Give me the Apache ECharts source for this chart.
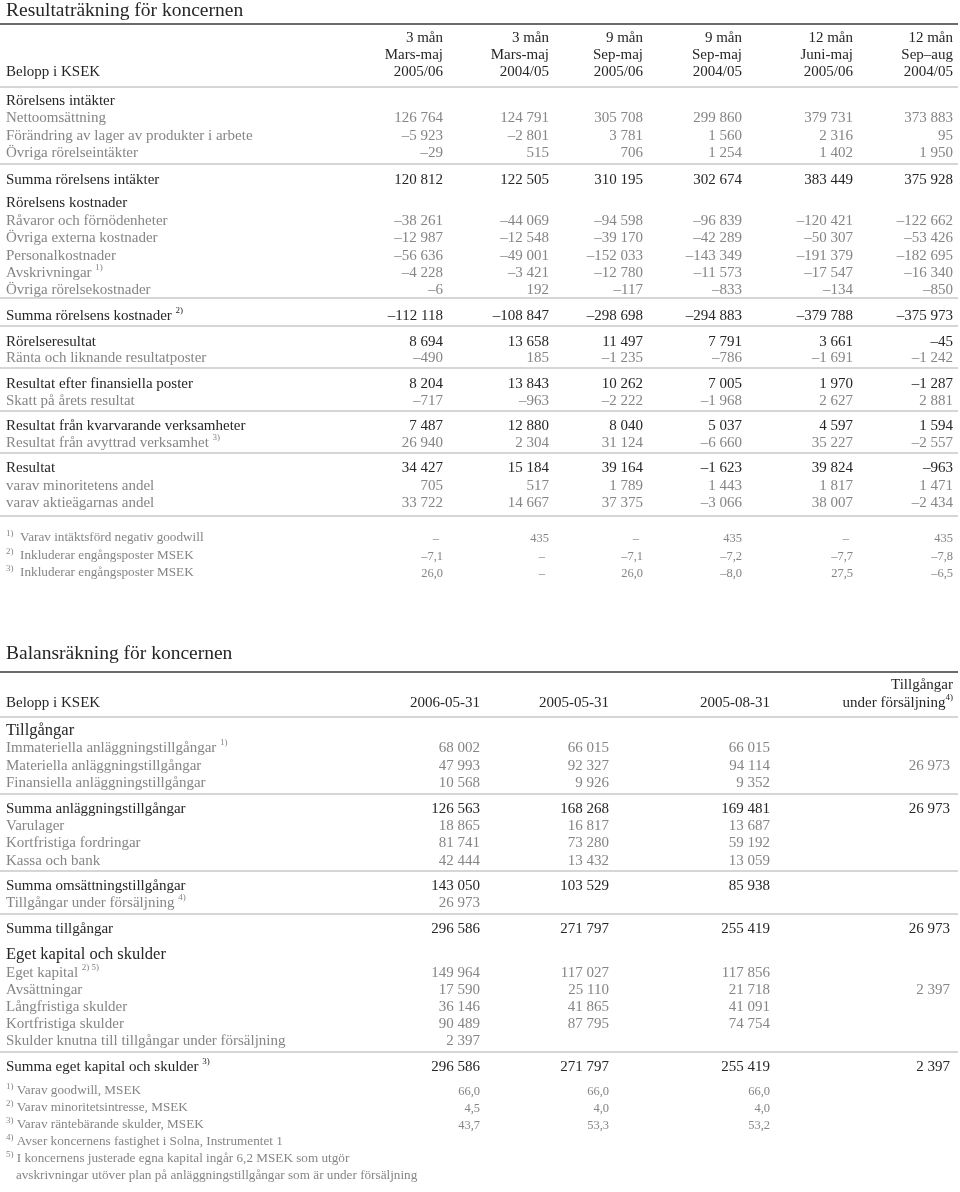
<!DOCTYPE html>
<html>
<head>
<meta charset="utf-8">
<script src="https://cdn.jsdelivr.net/npm/echarts@6/dist/echarts.min.js"></script>
<style>
  html, body { margin: 0; padding: 0; background: #fff; }
  #main { width: 960px; height: 1192px; }
</style>
</head>
<body>
<div id="main"></div>
<script>
// ---- Resultaträkning ----
const resPeriod = ["3 mån", "3 mån", "9 mån", "9 mån", "12 mån", "12 mån"];
const resMonths = ["Mars-maj", "Mars-maj", "Sep-maj", "Sep-maj", "Juni-maj", "Sep–aug"];
const resYears = ["2005/06", "2004/05", "2005/06", "2004/05", "2005/06", "2004/05"];

const resLabels = [
  "Rörelsens intäkter",
  "Nettoomsättning",
  "Förändring av lager av produkter i arbete",
  "Övriga rörelseintäkter",
  "Summa rörelsens intäkter",
  "Rörelsens kostnader",
  "Råvaror och förnödenheter",
  "Övriga externa kostnader",
  "Personalkostnader",
  "Avskrivningar",
  "Övriga rörelsekostnader",
  "Summa rörelsens kostnader",
  "Rörelseresultat",
  "Ränta och liknande resultatposter",
  "Resultat efter finansiella poster",
  "Skatt på årets resultat",
  "Resultat från kvarvarande verksamheter",
  "Resultat från avyttrad verksamhet",
  "Resultat",
  "varav minoritetens andel",
  "varav aktieägarnas andel"
];
const resNotes = { 9: "1)", 11: "2)", 17: "3)" };
const resStrong = [0, 4, 5, 11, 12, 14, 16, 18];
const resValues = [
  null,
  [126764, 124791, 305708, 299860, 379731, 373883],
  [-5923, -2801, 3781, 1560, 2316, 95],
  [-29, 515, 706, 1254, 1402, 1950],
  [120812, 122505, 310195, 302674, 383449, 375928],
  null,
  [-38261, -44069, -94598, -96839, -120421, -122662],
  [-12987, -12548, -39170, -42289, -50307, -53426],
  [-56636, -49001, -152033, -143349, -191379, -182695],
  [-4228, -3421, -12780, -11573, -17547, -16340],
  [-6, 192, -117, -833, -134, -850],
  [-112118, -108847, -298698, -294883, -379788, -375973],
  [8694, 13658, 11497, 7791, 3661, -45],
  [-490, 185, -1235, -786, -1691, -1242],
  [8204, 13843, 10262, 7005, 1970, -1287],
  [-717, -963, -2222, -1968, 2627, 2881],
  [7487, 12880, 8040, 5037, 4597, 1594],
  [26940, 2304, 31124, -6660, 35227, -2557],
  [34427, 15184, 39164, -1623, 39824, -963],
  [705, 517, 1789, 1443, 1817, 1471],
  [33722, 14667, 37375, -3066, 38007, -2434]
];
const resFootLabels = [
  "Varav intäktsförd negativ goodwill",
  "Inkluderar engångsposter MSEK",
  "Inkluderar engångsposter MSEK"
];
const resFootDecimals = [0, 1, 1];
const resFootValues = [
  [null, 435, null, 435, null, 435],
  [-7.1, null, -7.1, -7.2, -7.7, -7.8],
  [26.0, null, 26.0, -8.0, 27.5, -6.5]
];

// ---- Balansräkning ----
const balDates = ["2006-05-31", "2005-05-31", "2005-08-31"];
const balLabels = [
  "Tillgångar",
  "Immateriella anläggningstillgångar",
  "Materiella anläggningstillgångar",
  "Finansiella anläggningstillgångar",
  "Summa anläggningstillgångar",
  "Varulager",
  "Kortfristiga fordringar",
  "Kassa och bank",
  "Summa omsättningstillgångar",
  "Tillgångar under försäljning",
  "Summa tillgångar",
  "Eget kapital och skulder",
  "Eget kapital",
  "Avsättningar",
  "Långfristiga skulder",
  "Kortfristiga skulder",
  "Skulder knutna till tillgångar under försäljning",
  "Summa eget kapital och skulder"
];
const balNotes = { 1: "1)", 9: "4)", 12: "2) 5)", 17: "3)" };
const balStrong = [0, 4, 8, 10, 11, 17];
const balHeadings = [0, 11];
const balValues = [
  null,
  [68002, 66015, 66015, null],
  [47993, 92327, 94114, 26973],
  [10568, 9926, 9352, null],
  [126563, 168268, 169481, 26973],
  [18865, 16817, 13687, null],
  [81741, 73280, 59192, null],
  [42444, 13432, 13059, null],
  [143050, 103529, 85938, null],
  [26973, null, null, null],
  [296586, 271797, 255419, 26973],
  null,
  [149964, 117027, 117856, null],
  [17590, 25110, 21718, 2397],
  [36146, 41865, 41091, null],
  [90489, 87795, 74754, null],
  [2397, null, null, null],
  [296586, 271797, 255419, 2397]
];
const balFootLabels = [
  "Varav goodwill, MSEK",
  "Varav minoritetsintresse, MSEK",
  "Varav räntebärande skulder, MSEK",
  "Avser koncernens fastighet i Solna, Instrumentet 1",
  "I koncernens justerade egna kapital ingår 6,2 MSEK som utgör",
  "avskrivningar utöver plan på anläggningstillgångar som är under försäljning"
];
const balFootMarks = ["1)", "2)", "3)", "4)", "5)", ""];
const balFootValues = [
  [66.0, 66.0, 66.0],
  [4.5, 4.0, 4.0],
  [43.7, 53.3, 53.2]
];

// ---- layout ----
const FONT = "Liberation Serif";
const DARK = "#262626";
const GREY = "#858585";
const RULE = "#c9c9c9";
const BODY = 15;
const FOOT = 13.2;

const resColX = [443, 549, 643, 742, 853, 953];
const resRowY = [101, 118, 136, 153, 180, 203, 221, 238, 256, 273, 290, 316, 342, 358, 384, 401, 426, 443, 468, 486, 503];
const resRules = [87, 164, 298, 326, 368, 411, 453, 516];
const resFootY = [538, 556, 573];

const balColX = [480, 609, 770, 950];
const balRowY = [731, 748, 766, 783, 809, 826, 843, 861, 886, 903, 929, 955, 973, 990, 1007, 1024, 1041, 1067];
const balRules = [717, 794, 871, 914, 1052];
const balFootY = [1091, 1108, 1125, 1142, 1159, 1176];

function fmt(v) {
  if (v == null) return "";
  const s = String(Math.abs(v)).replace(/\B(?=(\d{3})+(?!\d))/g, " ");
  return (v < 0 ? "–" : "") + s;
}
function fmtDec(v, d) {
  if (v == null) return "–";
  const s = d ? Math.abs(v).toFixed(d).replace(".", ",") : String(Math.abs(v));
  return (v < 0 ? "–" : "") + s;
}

function txt(x, y, text, size, color, align, rich) {
  const style = {
    x: x, y: y, text: text,
    fontFamily: FONT, fontSize: size, fill: color,
    align: align || "left", textAlign: align || "left",
    verticalAlign: "middle", textVerticalAlign: "middle"
  };
  if (rich) style.rich = rich;
  return { type: "text", silent: true, style: style };
}
function supRich(color, size, lh) {
  return {
    s: { fontFamily: FONT, fontSize: 9, fill: color, verticalAlign: "top", lineHeight: 9 },
    m: { fontFamily: FONT, fontSize: size || BODY, fill: color, lineHeight: lh || 19 }
  };
}
function rule(y, color, w) {
  return {
    type: "line", silent: true,
    shape: { x1: 0, y1: y, x2: 958, y2: y },
    style: { stroke: color, lineWidth: w }
  };
}

const els = [];

// Resultaträkning
els.push(txt(6, 11, "Resultaträkning för koncernen", 19.5, DARK));
els.push(rule(24, "#6b6b6b", 2));
els.push(txt(6, 72, "Belopp i KSEK", BODY, DARK));
resColX.forEach((x, i) => {
  els.push(txt(x, 38, resPeriod[i], BODY, DARK, "right"));
  els.push(txt(x, 55, resMonths[i], BODY, DARK, "right"));
  els.push(txt(x, 72, resYears[i], BODY, DARK, "right"));
});
resRules.forEach(y => els.push(rule(y, RULE, 1.5)));
resLabels.forEach((lab, r) => {
  const color = resStrong.includes(r) ? DARK : GREY;
  const y = resRowY[r];
  if (resNotes[r]) {
    els.push(txt(6, y, "{m|" + lab + " }{s|" + resNotes[r] + "}", BODY, color, "left", supRich(color)));
  } else {
    els.push(txt(6, y, lab, BODY, color));
  }
  if (resValues[r]) {
    resValues[r].forEach((v, c) => els.push(txt(resColX[c], y, fmt(v), BODY, color, "right")));
  }
});
resFootLabels.forEach((lab, r) => {
  const y = resFootY[r];
  els.push(txt(6, y, "{s|" + (r + 1) + ")}{m|  " + lab + "}", FOOT, GREY, "left", supRich(GREY, FOOT, 17)));
  resFootValues[r].forEach((v, c) => {
    els.push(txt(resColX[c] - (v == null ? 4 : 0), y + 1, fmtDec(v, resFootDecimals[r]), 12.5, GREY, "right"));
  });
});

// Balansräkning
els.push(txt(6, 654, "Balansräkning för koncernen", 19.5, DARK));
els.push(rule(672, "#6b6b6b", 2));
els.push(txt(6, 703, "Belopp i KSEK", BODY, DARK));
balDates.forEach((d, i) => els.push(txt(balColX[i], 703, d, BODY, DARK, "right")));
els.push(txt(953, 685, "Tillgångar", BODY, DARK, "right"));
els.push(txt(953, 703, "{m|under försäljning}{s|4)}", BODY, DARK, "right", supRich(DARK)));
balRules.forEach(y => els.push(rule(y, RULE, 1.5)));
balLabels.forEach((lab, r) => {
  const color = balStrong.includes(r) ? DARK : GREY;
  const size = balHeadings.includes(r) ? 16.5 : BODY;
  const y = balRowY[r];
  if (balNotes[r]) {
    els.push(txt(6, y, "{m|" + lab + " }{s|" + balNotes[r] + "}", size, color, "left", supRich(color, size)));
  } else {
    els.push(txt(6, y, lab, size, color));
  }
  if (balValues[r]) {
    balValues[r].forEach((v, c) => els.push(txt(balColX[c], y, fmt(v), BODY, color, "right")));
  }
});
balFootLabels.forEach((lab, r) => {
  const y = balFootY[r];
  const mark = balFootMarks[r];
  els.push(txt(6, y, "{s|" + mark + "}{m|" + (mark ? " " : "   ") + lab + "}", FOOT, GREY, "left", supRich(GREY, FOOT, 17)));
  if (balFootValues[r]) {
    balFootValues[r].forEach((v, c) => els.push(txt(balColX[c], y + 1, fmtDec(v, 1), 12.5, GREY, "right")));
  }
});

const chart = echarts.init(document.getElementById("main"), null, { renderer: "canvas" });
chart.setOption({
  backgroundColor: "#fff",
  animation: false,
  graphic: { elements: els }
});
</script>
</body>
</html>
